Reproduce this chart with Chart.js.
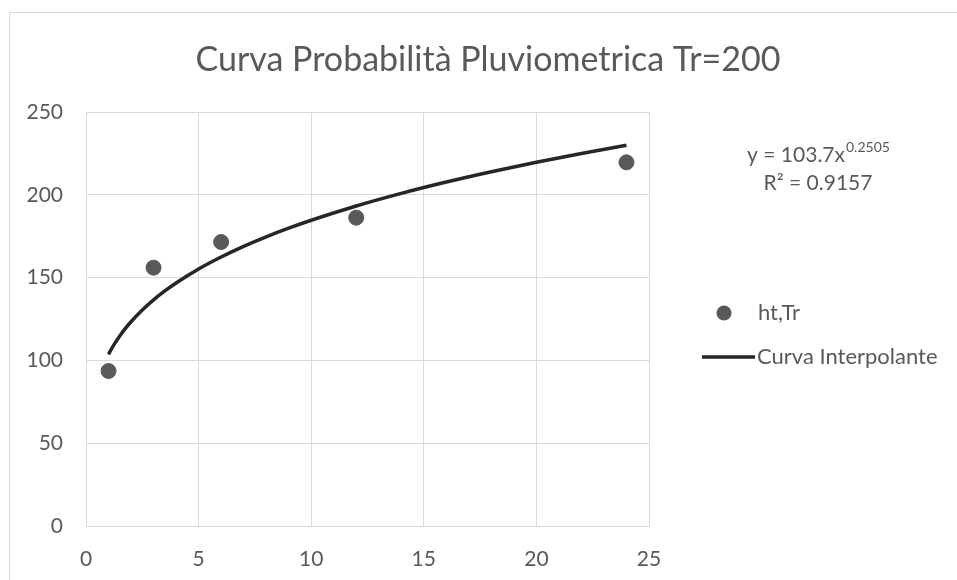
<!DOCTYPE html>
<html>
<head>
<meta charset="utf-8">
<script src="https://cdn.jsdelivr.net/npm/chart.js@4/dist/chart.umd.min.js"></script>
<style>
  html, body { margin: 0; padding: 0; background: #ffffff; }
  #wrap { width: 957px; height: 580px; }
</style>
</head>
<body>
<div id="wrap"><canvas id="c" width="957" height="580"></canvas></div>
<script>
// Rainfall probability curve: observed maxima and power-law fit
const chartTitle = 'Curva Probabilità Pluviometrica Tr=200';
const durations = [1, 3, 6, 12, 24];               // t [h]
const heights = [93.6, 156.0, 171.5, 186.2, 219.6]; // h [mm]
const seriesNames = ['ht,Tr', 'Curva Interpolante'];
const fitCoef = 103.7;      // a in y = a·x^n
const fitExp = 0.2505;      // n
const fitR2 = '0.9157';
const curveX = [1, 1.25, 1.5, 1.75, 2, 2.5, 3, 3.5, 4, 5, 6, 7, 8, 9, 10, 12, 14, 16, 18, 20, 22, 24];
const xTicks = [0, 5, 10, 15, 20, 25];
const yTicks = [0, 50, 100, 150, 200, 250];

const FONT = 'Lato, "Open Sans", sans-serif';
const TEXT = '#595959';
const GRID = '#d9d9d9';
const DOT = '#595959';
const LINE = '#262626';

const curvePts = curveX.map(x => ({ x: x, y: fitCoef * Math.pow(x, fitExp) }));
const obsPts = durations.map((t, i) => ({ x: t, y: heights[i] }));

const decor = {
  id: 'decor',
  beforeDraw(chart) {
    const ctx = chart.ctx;
    ctx.save();
    ctx.strokeStyle = GRID;
    ctx.lineWidth = 1;
    ctx.beginPath();
    ctx.moveTo(9.5, 580);
    ctx.lineTo(9.5, 12.5);
    ctx.lineTo(957, 12.5);
    ctx.stroke();
    ctx.restore();
  },
  afterDraw(chart) {
    const ctx = chart.ctx;
    ctx.save();
    ctx.fillStyle = TEXT;

    // title
    ctx.font = '34px ' + FONT;
    ctx.textAlign = 'center';
    ctx.textBaseline = 'middle';
    ctx.fillText(chartTitle, 488, 60);

    // fit equation
    const main = 'y = ' + fitCoef + 'x';
    const sup = String(fitExp);
    ctx.font = '21px ' + FONT;
    const wMain = ctx.measureText(main).width;
    ctx.font = '14px ' + FONT;
    const wSup = ctx.measureText(sup).width;
    const x0 = 818 - (wMain + wSup) / 2;
    ctx.textAlign = 'left';
    ctx.textBaseline = 'alphabetic';
    ctx.font = '21px ' + FONT;
    ctx.fillText(main, x0, 162);
    ctx.font = '14px ' + FONT;
    ctx.fillText(sup, x0 + wMain + 1, 152);
    ctx.font = '21px ' + FONT;
    ctx.textAlign = 'center';
    ctx.fillText('R\u00B2 = ' + fitR2, 818, 190);

    // legend
    ctx.textAlign = 'left';
    ctx.textBaseline = 'middle';
    ctx.fillStyle = DOT;
    ctx.beginPath();
    ctx.arc(724, 313, 7.5, 0, Math.PI * 2);
    ctx.fill();
    ctx.fillStyle = TEXT;
    ctx.font = '22px ' + FONT;
    ctx.fillText(seriesNames[0], 758, 313);
    ctx.strokeStyle = LINE;
    ctx.lineWidth = 3.5;
    ctx.beginPath();
    ctx.moveTo(702, 357);
    ctx.lineTo(755, 357);
    ctx.stroke();
    ctx.fillText(seriesNames[1], 757, 357);
    ctx.restore();
  }
};

new Chart(document.getElementById('c'), {
  type: 'scatter',
  data: {
    datasets: [
      {
        label: seriesNames[0],
        data: obsPts,
        backgroundColor: DOT,
        borderColor: DOT,
        pointRadius: 7.5,
        pointHoverRadius: 7.5,
        showLine: false,
        order: 1
      },
      {
        label: seriesNames[1],
        data: curvePts,
        borderColor: LINE,
        backgroundColor: LINE,
        borderWidth: 3.5,
        pointRadius: 0,
        showLine: true,
        tension: 0.4,
        cubicInterpolationMode: 'monotone',
        order: 0
      }
    ]
  },
  options: {
    responsive: false,
    animation: false,
    devicePixelRatio: 1,
    layout: { padding: { top: 112, right: 308, bottom: 0, left: 0 } },
    plugins: {
      legend: { display: false },
      title: { display: false },
      tooltip: { enabled: false }
    },
    scales: {
      x: {
        type: 'linear',
        min: xTicks[0],
        max: xTicks[xTicks.length - 1],
        afterBuildTicks: s => { s.ticks = xTicks.map(v => ({ value: v })); },
        afterFit: s => { s.height = 54; },
        ticks: { color: TEXT, font: { family: FONT, size: 21 }, padding: 21 },
        grid: { color: GRID, lineWidth: 1, drawTicks: false },
        border: { color: GRID, width: 1 }
      },
      y: {
        type: 'linear',
        min: yTicks[0],
        max: yTicks[yTicks.length - 1],
        afterBuildTicks: s => { s.ticks = yTicks.map(v => ({ value: v })); },
        afterFit: s => { s.width = 86; },
        ticks: { color: TEXT, font: { family: FONT, size: 21 }, padding: 23 },
        grid: { color: GRID, lineWidth: 1, drawTicks: false },
        border: { color: GRID, width: 1 }
      }
    }
  },
  plugins: [decor]
});
</script>
</body>
</html>
